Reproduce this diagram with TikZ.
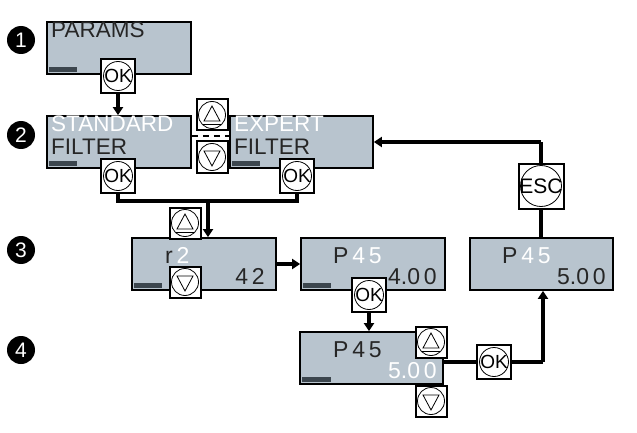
\documentclass[tikz,border=0pt]{standalone}
\usepackage{fontspec}
\setmainfont{Liberation Sans}
\usetikzlibrary{arrows.meta,calc}
\definecolor{lcd}{RGB}{184,196,206}
\definecolor{bar}{RGB}{60,70,78}
\begin{document}
\begin{tikzpicture}[x=1pt,y=-1pt,
  lcdbox/.style={draw=black,line width=1.8pt,fill=lcd,minimum width=144pt,minimum height=52pt,inner sep=0pt},
  btn/.style={draw=black,line width=2pt,fill=white,minimum size=34pt,inner sep=0pt},
  ring/.style={draw=black,line width=0.8pt,circle,minimum size=29pt,inner sep=0pt,font=\fontsize{19}{19}\selectfont},
  badge/.style={circle,fill=black,text=white,minimum size=28pt,inner sep=0pt,font=\fontsize{21}{21}\selectfont},
  conn/.style={line width=3.8pt},
  arr/.style={line width=3.8pt,-{Triangle[length=8pt,width=10pt]}},
  big/.style={font=\fontsize{22.5}{22.5}\selectfont,inner sep=0pt,anchor=north west},
  dig/.style={font=\fontsize{23}{23}\selectfont,inner sep=0pt},
]
\useasboundingbox (0,0) rectangle (637,433);
% badges
\node[badge] (b1) at (21,40) {1};
\node[badge] (b2) at (21,135) {2};
\node[badge] (b3) at (21,250) {3};
\node[badge] (b4) at (21,350) {4};
% boxes
\node[lcdbox] (bx1) at (119,48) {};
\fill[bar] (49,67) rectangle (77,72);
\node[big,text=black!85] (t1) at (51,22) {PARAMS};

\node[lcdbox] (bx2) at (119,142) {};
\fill[bar] (49,161) rectangle (77,166);
\node[big,text=white] (t2a) at (51,116) {STANDARD};
\node[big,text=black!85] (t2b) at (51,139) {FILTER};

\node[lcdbox,minimum width=143pt] (bx3) at (301.5,142) {};
\fill[bar] (232,161) rectangle (260,166);
\node[big,text=white] (t3a) at (234,116) {EXPERT};
\node[big,text=black!85] (t3b) at (234,139) {FILTER};

\node[lcdbox] (bx4) at (204,264) {};
\fill[bar] (134,283) rectangle (162,288);
\node[dig,anchor=base west] (r2) at (165,263) {\textcolor{black!85}{r}\,\textcolor{white}{2}};
\node[dig,anchor=base east,text=black!85] (v42) at (265,284) {4\,2};

\node[lcdbox] (bx5) at (373,264) {};
\fill[bar] (303,283) rectangle (331,288);
\node[dig,anchor=base west] (p1) at (333,263) {\textcolor{black!85}{P}\,\textcolor{white}{4\,5}};
\node[dig,anchor=base east,text=black!85] (v1) at (437,284) {4.0\,0};

\node[lcdbox,minimum width=143pt] (bx6) at (371.5,358) {};
\fill[bar] (302,377) rectangle (331,382);
\node[dig,anchor=base west,text=black!85] (p2) at (333,357) {P\,4\,5};
\node[dig,anchor=base east,text=white] (v2) at (437,378) {5.0\,0};

\node[lcdbox,minimum width=143pt] (bx7) at (541.5,264) {};
\node[dig,anchor=base west] (p3) at (502,263) {\textcolor{black!85}{P}\,\textcolor{white}{4\,5}};
\node[dig,anchor=base east,text=black!85] (v3) at (606,284) {5.0\,0};

% dashed link
\coordinate (dsh) at (0,136);
\draw[line width=2.8pt,dash pattern=on 6pt off 5pt] (bx2.east |- dsh) -- (bx3.west |- dsh);

% buttons
\newcommand{\okbtn}[3]{\node[btn] (#1) at (#2,#3) {}; \node[ring] (#1r) at (#1) {\hspace*{-3pt}OK\hspace*{-3pt}};}
\newcommand{\escbtn}[3]{\node[btn,minimum size=45pt] (#1) at (#2,#3) {}; \node[ring,minimum size=41pt,font=\fontsize{21}{21}\selectfont] (#1r) at (#1) {\hspace*{-4pt}ESC\hspace*{-4pt}};}
\newcommand{\upbtn}[3]{\node[btn,minimum size=31pt] (#1) at (#2,#3) {}; \node[ring,minimum size=27pt] (#1r) at (#1) {};
  \draw[line width=0.8pt] ($(#1)+(-8,6)$) -- ($(#1)+(0,-9)$) -- ($(#1)+(8,6)$) -- cycle;
  \draw[line width=0.8pt] ($(#1)+(-9,9)$) -- ($(#1)+(9,9)$);}
\newcommand{\dnbtn}[3]{\node[btn,minimum size=31pt] (#1) at (#2,#3) {}; \node[ring,minimum size=27pt] (#1r) at (#1) {};
  \draw[line width=0.8pt] ($(#1)+(-8,-6)$) -- ($(#1)+(0,9)$) -- ($(#1)+(8,-6)$) -- cycle;}

% coordinates for connectors
\coordinate (jl) at (118,201); \coordinate (jr) at (297,201); \coordinate (jm) at (208,201);
\coordinate (okin) at (443,362); \coordinate (okr) at (543,362);
\coordinate (esct) at (541,142);

% connectors (under buttons)
\draw[arr] (118,94) -- (bx2.north -| 118,0);
\draw[conn] (118,190) -- (jl) -- (jr) -- (297,190);
\draw[arr] (jm) -- (bx4.north -| jm);
\draw[arr] (bx4.east) -- (bx5.west);
\draw[arr] (369,308) -- (bx6.north -| 369,0);
\draw[conn] (bx6.east |- okin) -- (okr);
\draw[arr] (okr) -- (bx7.south -| okr);
\draw[conn] (bx7.north -| esct) -- (esct);
\draw[arr] (esct) -- (bx3.east |- esct);

\okbtn{ok1}{118}{76}
\okbtn{ok2}{118}{176}
\okbtn{ok3}{297}{176}
\upbtn{up1}{212}{115}
\dnbtn{dn1}{212}{157}
\upbtn{up2}{185}{223}
\dnbtn{dn2}{185}{282}
\okbtn{ok4}{369}{295}
\upbtn{up3}{431}{342}
\dnbtn{dn3}{431}{401}
\okbtn{ok5}{494}{362}
\escbtn{esc}{541}{186}
\end{tikzpicture}
\end{document}
